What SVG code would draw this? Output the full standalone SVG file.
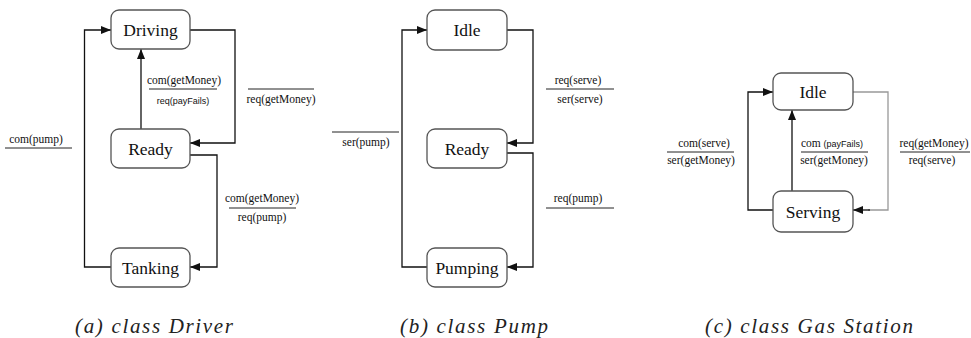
<svg xmlns="http://www.w3.org/2000/svg" width="971" height="338" viewBox="0 0 971 338">
<style>
.node rect{fill:#fff;stroke:#555;stroke-width:1.3}
.node text{font-family:"Liberation Serif",serif;font-size:17.5px;fill:#111;text-anchor:middle}
.conn path{fill:none;stroke:#111;stroke-width:1.3}
.conn path.gray{stroke:#999}
.lbl{font-family:"Liberation Serif",serif;font-size:11.5px;fill:#111;text-anchor:middle}
.sans{font-family:"Liberation Sans",sans-serif;font-size:9px;fill:#111}
.bar{stroke:#222;stroke-width:1}
.cap{font-family:"Liberation Serif",serif;font-style:italic;font-size:21px;fill:#222}
</style>
<defs>
<marker id="ah" viewBox="0 0 10 8" refX="10" refY="4" markerWidth="10" markerHeight="8" markerUnits="userSpaceOnUse" orient="auto">
<path d="M0,0 L10,4 L0,8 z" fill="#111"/>
</marker>
</defs>
<rect width="971" height="338" fill="#fff"/>

<g id="connectors" class="conn">
<path d="M111,267 H84.5 V30 H111" marker-end="url(#ah)"/>
<path d="M190,30 H235 V143 H190" marker-end="url(#ah)"/>
<path d="M190,155 H217 V267 H190" marker-end="url(#ah)"/>
<path d="M141,129 V49" marker-end="url(#ah)"/>
<path d="M427,267 H402 V30 H427" marker-end="url(#ah)"/>
<path d="M507,30 H533 V143 H507" marker-end="url(#ah)"/>
<path d="M507,153 H533 V267 H507" marker-end="url(#ah)"/>
<path d="M773,210 H748 V92 H773" marker-end="url(#ah)"/>
<path d="M792,191 V110" marker-end="url(#ah)"/>
<path class="gray" d="M853,92 H888 V210 H868"/>
<path d="M870,210 H853" marker-end="url(#ah)"/>
</g>

<g id="driver-driving" class="node"><rect x="111" y="10" width="79" height="39" rx="8"/><text x="150.5" y="35.5">Driving</text></g>
<g id="driver-ready" class="node"><rect x="111" y="129" width="79" height="39" rx="8"/><text x="150.5" y="154.5">Ready</text></g>
<g id="driver-tanking" class="node"><rect x="111" y="248" width="79" height="39" rx="8"/><text x="150.5" y="273.5">Tanking</text></g>

<g id="pump-idle" class="node"><rect x="427" y="10" width="80" height="40" rx="8"/><text x="467" y="36">Idle</text></g>
<g id="pump-ready" class="node"><rect x="427" y="129" width="80" height="39" rx="8"/><text x="467" y="154.5">Ready</text></g>
<g id="pump-pumping" class="node"><rect x="427" y="248" width="80" height="39" rx="8"/><text x="467" y="273.5">Pumping</text></g>

<g id="gas-idle" class="node"><rect x="773" y="73" width="80" height="37" rx="8"/><text x="813" y="97.5">Idle</text></g>
<g id="gas-serving" class="node"><rect x="773" y="191" width="80" height="41" rx="8"/><text x="813" y="217.5">Serving</text></g>

<g id="labels">
<text class="lbl" x="36" y="143">com(pump)</text>
<line class="bar" x1="5" y1="148" x2="72" y2="148"/>
<text class="lbl" x="184" y="84">com(getMoney)</text>
<line class="bar" x1="149" y1="89" x2="217" y2="89"/>
<text class="sans" x="183" y="104" text-anchor="middle">req(payFails)</text>
<line class="bar" x1="248" y1="89" x2="314" y2="89"/>
<text class="lbl" x="281" y="103">req(getMoney)</text>
<text class="lbl" x="262" y="202">com(getMoney)</text>
<line class="bar" x1="229" y1="208" x2="296" y2="208"/>
<text class="lbl" x="262" y="221">req(pump)</text>

<line class="bar" x1="332" y1="132" x2="399" y2="132"/>
<text class="lbl" x="366" y="146">ser(pump)</text>
<text class="lbl" x="578" y="84">req(serve)</text>
<line class="bar" x1="546" y1="89" x2="614" y2="89"/>
<text class="lbl" x="580" y="103">ser(serve)</text>
<text class="lbl" x="578" y="202">req(pump)</text>
<line class="bar" x1="546" y1="208" x2="614" y2="208"/>

<text class="lbl" x="704" y="147">com(serve)</text>
<line class="bar" x1="667" y1="152" x2="734" y2="152"/>
<text class="lbl" x="701" y="164">ser(getMoney)</text>
<text class="lbl" x="832" y="147">com <tspan class="sans">(payFails)</tspan></text>
<line class="bar" x1="801" y1="152" x2="868" y2="152"/>
<text class="lbl" x="834" y="164">ser(getMoney)</text>
<text class="lbl" x="934" y="147">req(getMoney)</text>
<line class="bar" x1="900" y1="152" x2="970" y2="152"/>
<text class="lbl" x="932" y="164">req(serve)</text>
</g>

<g id="captions">
<text class="cap" x="75" y="333" textLength="158" lengthAdjust="spacing">(a) class Driver</text>
<text class="cap" x="400" y="333" textLength="148" lengthAdjust="spacing">(b) class Pump</text>
<text class="cap" x="705" y="333" textLength="208" lengthAdjust="spacing">(c) class Gas Station</text>
</g>
</svg>
